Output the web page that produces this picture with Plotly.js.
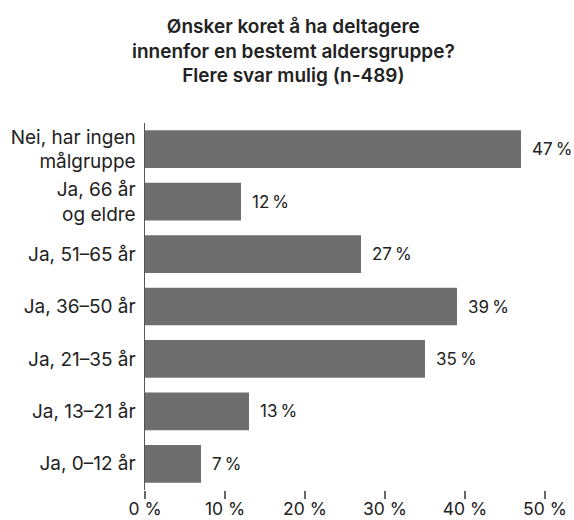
<!DOCTYPE html>
<html><head><meta charset="utf-8">
<script src="https://cdn.plot.ly/plotly-3.0.1.min.js"></script>
<style>html,body{margin:0;padding:0;background:#fff}</style>
</head><body>
<div id="chart" style="width:574px;height:520px"></div>
<script>
const categories = ["Nei, har ingen<br>målgruppe", "Ja, 66 år<br>og eldre", "Ja, 51–65 år", "Ja, 36–50 år", "Ja, 21–35 år", "Ja, 13–21 år", "Ja, 0–12 år"];
const values = [47, 12, 27, 39, 35, 13, 7];
const tickVals = [0, 10, 20, 30, 40, 50];
const tickText = ["0 %", "10 %", "20 %", "30 %", "40 %", "50 %"];
const titleText = "Ønsker koret å ha deltagere<br>innenfor en bestemt aldersgruppe?<br>Flere svar mulig (n-489)";

const font = "Inter, 'Liberation Sans', Arial, sans-serif";
const trace = {
  type: "bar", orientation: "h",
  x: values, y: categories,
  marker: {color: "#6e6e6e"},
  hoverinfo: "none"
};
const annotations = values.map((v, i) => ({
  x: v, y: categories[i], xref: "x", yref: "y",
  text: v + "\u2009%", showarrow: false, xanchor: "left", xshift: 9,
  font: {family: font, size: 17, color: "#222"}
}));
annotations.push({
  text: titleText, xref: "paper", yref: "paper", x: 0.363, y: 1,
  xanchor: "center", yanchor: "bottom", yshift: 34, align: "center",
  showarrow: false,
  font: {family: font, size: 19, weight: 600, color: "#222"}
});
const layout = {
  width: 574, height: 520,
  margin: {l: 145, r: 21, t: 123, b: 30},
  paper_bgcolor: "#fff", plot_bgcolor: "#fff",
  bargap: 0.28,
  showlegend: false,
  font: {family: font, color: "#222"},
  xaxis: {range: [0, 51], tickvals: tickVals, ticktext: tickText,
          showgrid: false, zeroline: false, showline: false,
          ticks: "outside", ticklen: 8, tickwidth: 1.5, tickcolor: "#666",
          ticklabelstandoff: -5,
          tickfont: {family: font, size: 17.5, color: "#222"}, fixedrange: true},
  yaxis: {autorange: "reversed", showgrid: false, zeroline: false,
          showline: true, linecolor: "#555", linewidth: 1.5,
          ticks: "", ticklabelstandoff: 4,
          tickfont: {family: font, size: 19, color: "#222"}, fixedrange: true},
  annotations: annotations
};
Plotly.newPlot("chart", [trace], layout, {displayModeBar: false, staticPlot: true});
</script>
</body></html>
